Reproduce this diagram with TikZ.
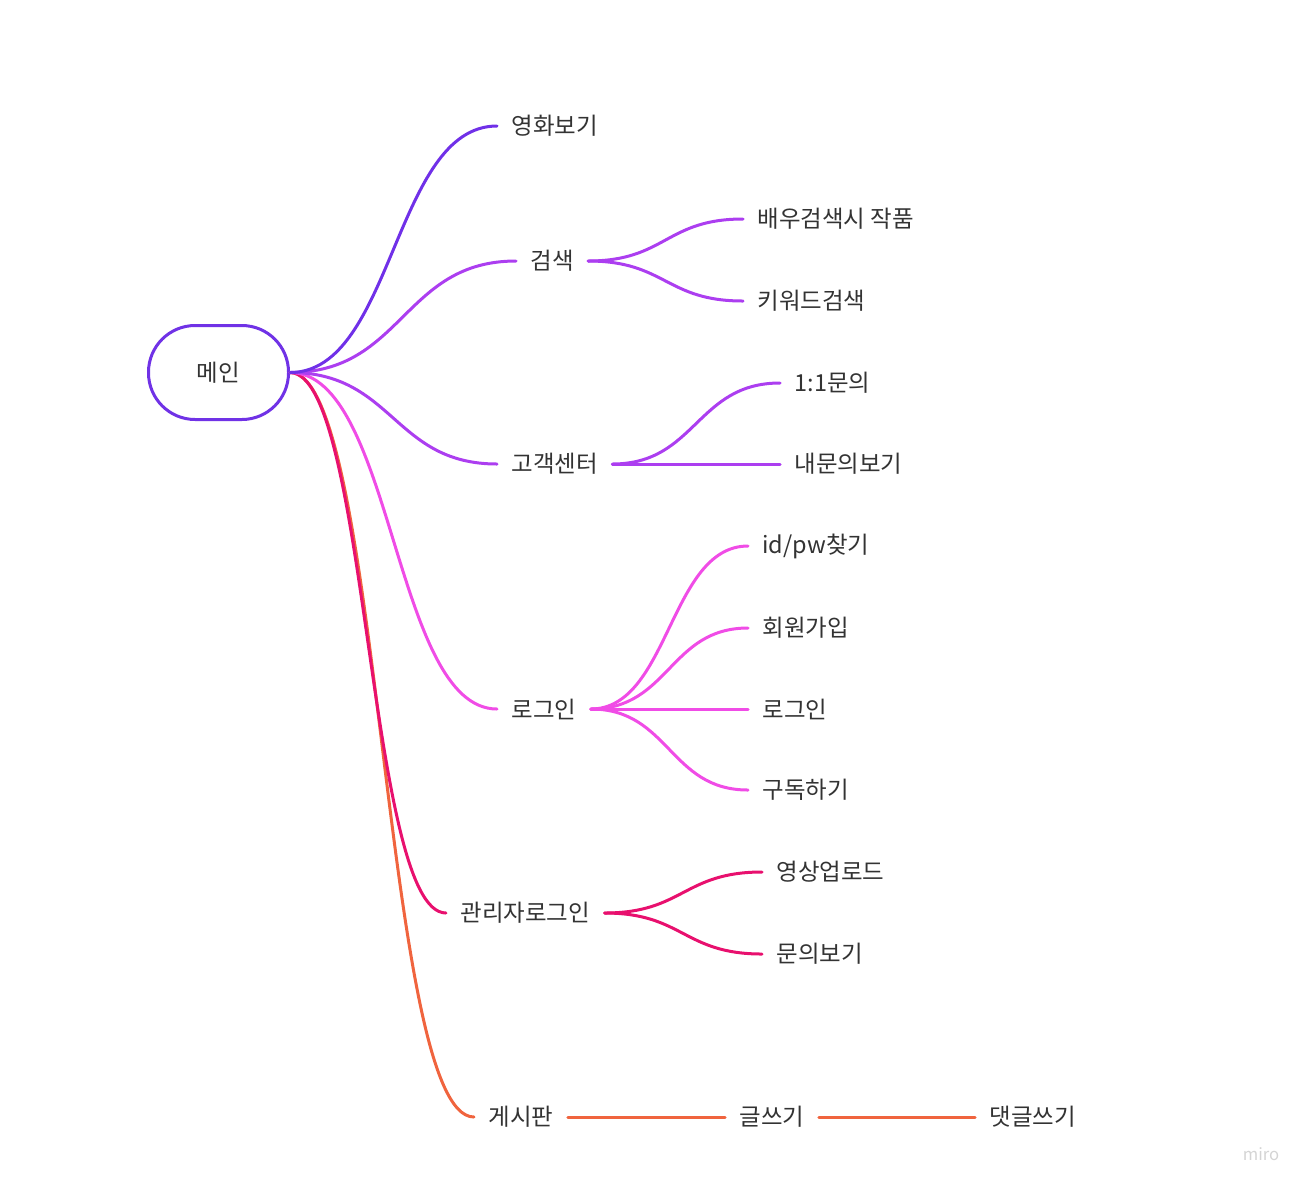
\documentclass[tikz,border=0pt]{standalone}
\usepackage{fontspec}
\setmainfont{Noto Sans CJK KR}
\usetikzlibrary{calc}

\definecolor{cMain}{HTML}{7032E6}
\definecolor{cMovie}{HTML}{7030E8}
\definecolor{cSearch}{HTML}{AC3EF0}
\definecolor{cLogin}{HTML}{F04CE6}
\definecolor{cAdmin}{HTML}{E8106E}
\definecolor{cBoard}{HTML}{F0643E}
\definecolor{cText}{HTML}{333333}

\tikzset{every picture/.style={line width=0.75pt}}
\tikzset{
  item/.style={anchor=west, inner xsep=10.5pt, inner ysep=2pt, text=cText,
    font=\fontsize{17.6pt}{21pt}\selectfont},
  branch/.style={line width=2.25pt, line cap=round,
    to path={let \p1=(\tikztostart), \p2=(\tikztotarget),
      \p3=($(\tikztostart)!0.5!(\tikztotarget)$) in
      .. controls (\x3,\y1) and (\x3,\y2) .. (\tikztotarget)}},
}

\begin{document}
\begin{tikzpicture}[x=0.75pt,y=0.75pt,yscale=-1,xscale=1]
\useasboundingbox (0,0) rectangle (1312,1190);

%Shape: Rounded Rectangle [id:main]
\node (main) [draw=cMain, line width=2.25pt, rounded corners=35pt, minimum width=105pt,
  minimum height=70.5pt, text=cText, font=\fontsize{17.6pt}{21pt}\selectfont] at (218.5,372.5) {메인};

% Text Node
\node (movie) [item] at (497,126) {영화보기};
% Text Node
\node (search) [item] at (516,261) {검색};
\node (actor) [item] at (743,219) {배우검색시 작품};
\node (keyword) [item] at (743,301) {키워드검색};
% Text Node
\node (center) [item] at (497,464) {고객센터};
\node (ask) [item] at (780,383) {1:1문의};
\node (myask) [item] at (780,464) {내문의보기};
% Text Node
\node (login) [item] at (497,709) {로그인};
\node (findid) [item] at (748,546) {id/pw찾기};
\node (join) [item] at (748,628) {회원가입};
\node (signin) [item] at (748,709) {로그인};
\node (subscribe) [item] at (748,790) {구독하기};
% Text Node
\node (admin) [item] at (446,913) {관리자로그인};
\node (upload) [item] at (762,872) {영상업로드};
\node (askview) [item] at (762,954) {문의보기};
% Text Node
\node (board) [item] at (474,1117) {게시판};
\node (write) [item] at (725,1117) {글쓰기};
\node (reply) [item] at (975,1117) {댓글쓰기};

% Watermark
\node (miro) [text=black!17, font=\fontsize{12.5pt}{15pt}\selectfont] at (1261,1154) {miro};

%Curves
\draw [branch, cBoard] (main.east) to (board.west);
\draw [branch, cAdmin] (main.east) to (admin.west);
\draw [branch, cLogin] (main.east) to (login.west);
\draw [branch, cSearch] (main.east) to (center.west);
\draw [branch, cSearch] (main.east) to (search.west);
\draw [branch, cMovie] (main.east) to (movie.west);

\draw [branch, cSearch] (search.east) to (actor.west);
\draw [branch, cSearch] (search.east) to (keyword.west);

\draw [branch, cSearch] (center.east) to (ask.west);
\draw [branch, cSearch] (center.east) to (myask.west);

\foreach \leaf in {findid,join,signin,subscribe}
  \draw [branch, cLogin] (login.east) to (\leaf.west);

\draw [branch, cAdmin] (admin.east) to (upload.west);
\draw [branch, cAdmin] (admin.east) to (askview.west);

\draw [branch, cBoard] (board.east) to (write.west);
\draw [branch, cBoard] (write.east) to (reply.west);

\end{tikzpicture}
\end{document}
